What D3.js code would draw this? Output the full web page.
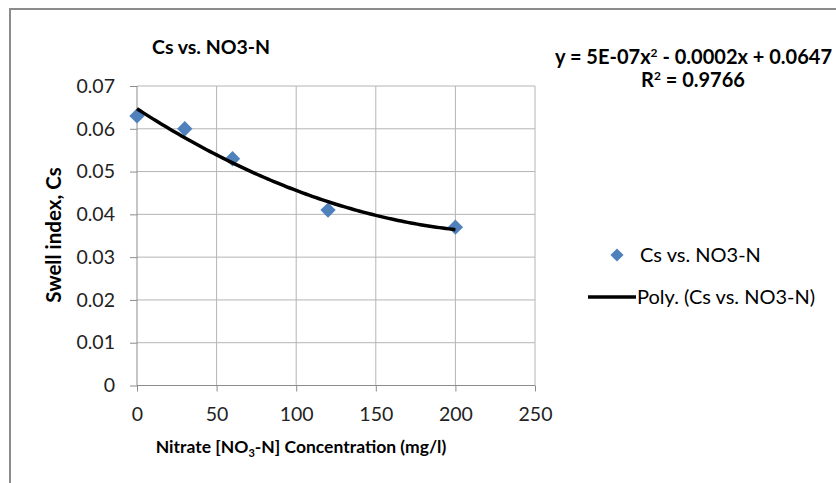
<!DOCTYPE html>
<html>
<head>
<meta charset="utf-8">
<script src="https://cdn.jsdelivr.net/npm/d3@7"></script>
<style>
  body { margin: 0; background: #fff; }
  svg { display: block; font-family: Lato, "Open Sans", sans-serif; }
</style>
</head>
<body>
<svg id="chart"></svg>
<script>
var w = 836;
var h = 483;

// data
var nitrate = [0, 30, 60, 120, 200];
var swell = [0.063, 0.060, 0.053, 0.041, 0.037];
var xTicks = [0, 50, 100, 150, 200, 250];
var yTicks = [0, 0.01, 0.02, 0.03, 0.04, 0.05, 0.06, 0.07];

var svg = d3.select('#chart').attr('width', w).attr('height', h);

var x = d3.scaleLinear().domain([0, 250]).range([137, 535]);
var y = d3.scaleLinear().domain([0, 0.07]).range([385.5, 86]);

// outer frame (only top and left visible)
svg.append('path')
  .attr('d', 'M10,' + h + ' L10,9 L' + w + ',9')
  .attr('fill', 'none')
  .attr('stroke', '#8c8c8c')
  .attr('stroke-width', 2);

// grid
svg.append('g').selectAll('line')
  .data(yTicks.slice(1))
  .enter()
  .append('line')
  .attr('x1', x(0)).attr('x2', x(250))
  .attr('y1', function (d) { return y(d); })
  .attr('y2', function (d) { return y(d); })
  .attr('stroke', '#b4b4b4');

svg.append('g').selectAll('line')
  .data(xTicks.slice(1))
  .enter()
  .append('line')
  .attr('y1', y(0)).attr('y2', y(0.07))
  .attr('x1', function (d) { return x(d); })
  .attr('x2', function (d) { return x(d); })
  .attr('stroke', '#b4b4b4');

// axes
var xAxis = d3.axisBottom(x).tickValues(xTicks).tickSize(6).tickPadding(16)
  .tickFormat(d3.format('d'));
var yAxis = d3.axisLeft(y).tickValues(yTicks).tickSize(7).tickPadding(15)
  .tickFormat(function (d) { return d === 0 ? '0' : d3.format('.2f')(d); });

var gx = svg.append('g').attr('transform', 'translate(0,' + y(0) + ')').call(xAxis);
var gy = svg.append('g').attr('transform', 'translate(' + x(0) + ',0)').call(yAxis);

[gx, gy].forEach(function (g) {
  g.select('.domain').attr('stroke', '#8c8c8c');
  g.selectAll('.tick line').attr('stroke', '#8c8c8c');
  g.selectAll('.tick text')
    .attr('font-size', '19.5px')
    .attr('fill', '#222')
    .style('font-family', 'Lato, sans-serif');
});
gx.select('.domain').attr('d', 'M' + x(0) + ',0H' + x(250));
gy.select('.domain').attr('d', 'M0,' + y(0) + 'V' + y(0.07));

// polynomial trendline (least squares, order 2)
function polyFit(xs, ys) {
  var n = xs.length, s = [0, 0, 0, 0, 0], t = [0, 0, 0];
  for (var i = 0; i < n; i++) {
    for (var k = 0; k < 5; k++) s[k] += Math.pow(xs[i], k);
    for (var k2 = 0; k2 < 3; k2++) t[k2] += ys[i] * Math.pow(xs[i], k2);
  }
  var A = [[s[0], s[1], s[2], t[0]], [s[1], s[2], s[3], t[1]], [s[2], s[3], s[4], t[2]]];
  for (var c = 0; c < 3; c++) {
    for (var r = c + 1; r < 3; r++) {
      var f = A[r][c] / A[c][c];
      for (var j = c; j < 4; j++) A[r][j] -= f * A[c][j];
    }
  }
  var b = [0, 0, 0];
  for (var r2 = 2; r2 >= 0; r2--) {
    var v = A[r2][3];
    for (var j2 = r2 + 1; j2 < 3; j2++) v -= A[r2][j2] * b[j2];
    b[r2] = v / A[r2][r2];
  }
  return b;
}
var coef = polyFit(nitrate, swell);
var curveX = d3.range(0, 200.01, 2);
var line = d3.line()
  .x(function (d) { return x(d); })
  .y(function (d) { return y(coef[0] + coef[1] * d + coef[2] * d * d); });

// Points
var diamond = d3.symbol().type(d3.symbolDiamond2).size(150);
svg.append('g').selectAll('path')
  .data(nitrate)
  .enter()
  .append('path')
  .attr('d', diamond)
  .attr('transform', function (d, i) {
    return 'translate(' + x(d) + ',' + y(swell[i]) + ')';
  })
  .attr('fill', '#4f81bd');

svg.append('path')
  .datum(curveX)
  .attr('d', line)
  .attr('fill', 'none')
  .attr('stroke', '#000')
  .attr('stroke-width', 3.5);

// Titles
svg.append('text')
  .text('Cs vs. NO3-N')
  .attr('x', 152).attr('y', 54)
  .attr('font-size', '19.5px').attr('font-weight', 'bold').attr('fill', '#000');

var eq = svg.append('text')
  .attr('x', 555).attr('y', 64)
  .attr('font-size', '20px').attr('font-weight', 'bold').attr('fill', '#000');
eq.append('tspan').text('y = 5E-07x');
eq.append('tspan').text('2').attr('font-size', '12px').attr('dy', -7);
eq.append('tspan').text(' - 0.0002x + 0.0647').attr('dy', 7);

var r2 = svg.append('text')
  .attr('x', 641).attr('y', 87)
  .attr('font-size', '20px').attr('font-weight', 'bold').attr('fill', '#000');
r2.append('tspan').text('R');
r2.append('tspan').text('2').attr('font-size', '12px').attr('dy', -7);
r2.append('tspan').text(' = 0.9766').attr('dy', 7);

var xt = svg.append('text')
  .attr('x', 301).attr('y', 453)
  .attr('text-anchor', 'middle')
  .attr('font-size', '17.5px').attr('font-weight', 'bold').attr('fill', '#000');
xt.append('tspan').text('Nitrate [NO');
xt.append('tspan').text('3').attr('font-size', '11px').attr('dy', 4);
xt.append('tspan').text('-N] Concentration (mg/l)').attr('dy', -4);

svg.append('text')
  .text('Swell index, Cs')
  .attr('transform', 'translate(61,235) rotate(-90)')
  .attr('text-anchor', 'middle')
  .attr('font-size', '20.5px').attr('font-weight', 'bold').attr('fill', '#000');

// Legend
svg.append('path')
  .attr('d', d3.symbol().type(d3.symbolDiamond2).size(110))
  .attr('transform', 'translate(617,255)')
  .attr('fill', '#4f81bd');
svg.append('text')
  .text('Cs vs. NO3-N')
  .attr('x', 640).attr('y', 262)
  .attr('font-size', '20px').attr('fill', '#000');

svg.append('line')
  .attr('x1', 588).attr('x2', 636)
  .attr('y1', 297).attr('y2', 297)
  .attr('stroke', '#000').attr('stroke-width', 3.5);
svg.append('text')
  .text('Poly. (Cs vs. NO3-N)')
  .attr('x', 637).attr('y', 304)
  .attr('font-size', '20px').attr('fill', '#000');
</script>
</body>
</html>
